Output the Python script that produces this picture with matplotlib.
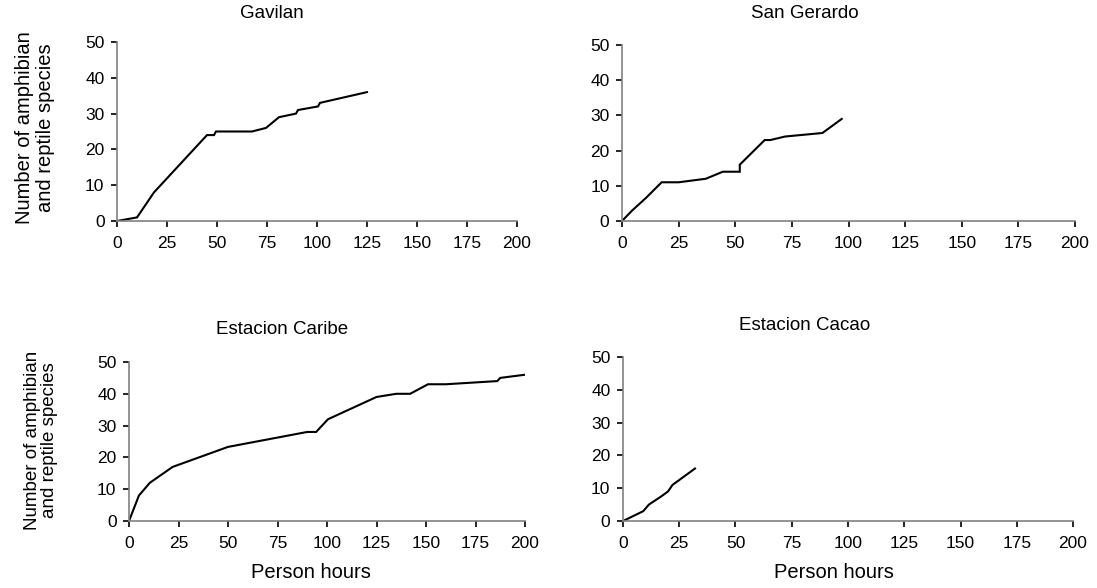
import matplotlib
matplotlib.use("Agg")
import matplotlib.pyplot as plt

# --- Species accumulation data (person hours vs. cumulative species) ---
gavilan_hours = [0, 10, 18.5, 45, 48.5, 49.5, 67.5, 74.5, 81, 89.5, 90.5, 100.5, 101.5, 125]
gavilan_species = [0, 1, 8, 24, 24, 25, 25, 26, 29, 30, 31, 32, 33, 36]

gerardo_hours = [0, 4.5, 10.5, 17.5, 25, 37, 44.5, 52, 52, 63, 65.5, 72, 88.5, 97]
gerardo_species = [0, 3, 6.5, 11, 11, 12, 14, 14, 16, 23, 23, 24, 25, 29]

caribe_hours = [0, 5, 10.5, 22, 50, 90, 94.5, 100.5, 125, 135, 142, 151, 160, 186, 187.5, 200]
caribe_species = [0, 8, 12, 17, 23.3, 28, 28, 32, 39, 40, 40, 43, 43, 44, 45, 46]

cacao_hours = [0, 9, 11.5, 17, 20, 22, 32]
cacao_species = [0, 3, 5, 7.5, 9, 11, 16]

titles = ["Gavilan", "San Gerardo", "Estacion Caribe", "Estacion Cacao"]
x_ticks = [0, 25, 50, 75, 100, 125, 150, 175, 200]
y_ticks = [0, 10, 20, 30, 40, 50]

W, H = 1097, 588
plt.rcParams["font.family"] = ["Liberation Sans", "DejaVu Sans"]

fig = plt.figure(figsize=(W / 100, H / 100), dpi=100)


def px_axes(left, top, right, bottom):
    # axes box given in pixel coords (y from the top of the image)
    return fig.add_axes([left / W, (H - bottom) / H, (right - left) / W, (bottom - top) / H])


boxes = [
    (117, 42, 517, 221),
    (622, 45, 1075, 221),
    (129, 362, 525, 521),
    (623, 357, 1073, 521),
]
series = [
    (gavilan_hours, gavilan_species),
    (gerardo_hours, gerardo_species),
    (caribe_hours, caribe_species),
    (cacao_hours, cacao_species),
]
title_pos = [(272, 13), (805, 13), (282, 330), (805, 326)]

for box, (xs, ys), title, tpos in zip(boxes, series, titles, title_pos):
    ax = px_axes(*box)
    ax.plot(xs, ys, color="black", lw=1.5, solid_joinstyle="miter")
    ax.set_xlim(0, 200)
    ax.set_ylim(0, 50)
    ax.set_xticks(x_ticks)
    ax.set_yticks(y_ticks)
    ax.spines["top"].set_visible(False)
    ax.spines["right"].set_visible(False)
    for side in ["left", "bottom"]:
        ax.spines[side].set_color("#808080")
        ax.spines[side].set_linewidth(1.2)
    ax.tick_params(axis="both", direction="out", length=4, width=1.2, color="black",
                   labelsize=12.5)
    ax.tick_params(axis="x", pad=7)
    ax.tick_params(axis="y", pad=5)
    fig.text(tpos[0] / W, 1 - tpos[1] / H, title, ha="center", va="center", fontsize=13.5)

# y-axis titles on the left column
ylab = "Number of amphibian\nand reptile species"
fig.text(35 / W, 1 - 128 / H, ylab, ha="center", va="center", rotation=90, fontsize=14.5,
         linespacing=1.1)
fig.text(41 / W, 1 - 440 / H, ylab, ha="center", va="center", rotation=90, fontsize=13.5,
         linespacing=1.05)

# x-axis titles on the bottom row
fig.text(311 / W, 1 - 573 / H, "Person hours", ha="center", va="center", fontsize=14.5)
fig.text(834 / W, 1 - 573 / H, "Person hours", ha="center", va="center", fontsize=14.5)

fig.savefig("out.png", dpi=100)
